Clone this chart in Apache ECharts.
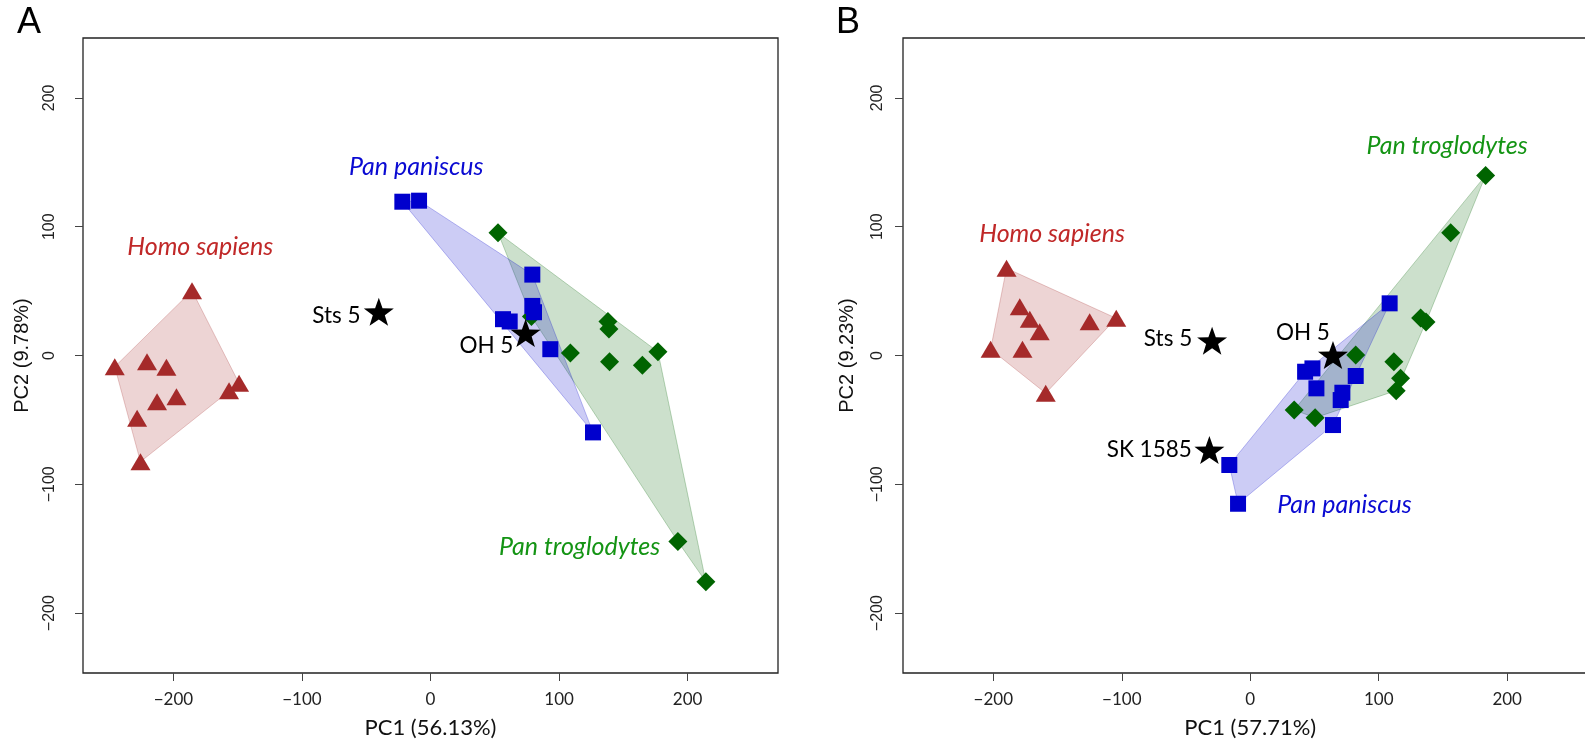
<!DOCTYPE html>
<html>
<head>
<meta charset="utf-8">
<title>PCA</title>
<style type="text/css">
body{margin:0;padding:0;overflow:hidden;background:#fff;}
#main{width:1600px;height:745px;}
</style>
<script src="https://cdn.jsdelivr.net/npm/echarts@6/dist/echarts.min.js"></script>
</head>
<body>
<div id="main"></div>
<script type="text/javascript">
// ---- panel A ----
var homoA = [[-185.5,50.3],[-245.6,-8.7],[-220.5,-4.8],[-205.4,-9.2],[-212.7,-35.9],[-197.6,-32],[-228.2,-48.8],[-148.9,-21.6],[-156.7,-27.3],[-225.6,-82.5]];
var paniscusA = [[-21.9,119.4],[-8.9,120.2],[79.2,62.8],[79.2,38.5],[80.5,33.6],[56.4,28.2],[61.6,26.4],[93.2,4.9],[126.4,-59.7]];
var troglodytesA = [[52.5,95.3],[78.5,30.2],[138,26.4],[138.8,20.5],[108.8,1.9],[139.3,-4.9],[164.8,-7.5],[176.9,2.9],[192.4,-144.4],[214.2,-175.7]];
var fossilsA = [[-40.2,33.9],[74,17.4]];
var fossilNamesA = ['Sts 5','OH 5'];
var fossilLabelsA = [[-73.2,30.7],[43.5,7.9]];
var speciesLabelsA = [[-179.1,84.2],[-11.1,146.3],[116,-148.7]];

// ---- panel B ----
var homoB = [[-189.7,67.7],[-179.4,37.9],[-171.6,28.1],[-163.9,18.5],[-125,26.2],[-104.3,28.9],[-202.1,4.8],[-177.3,4.8],[-159.2,-29.3]];
var paniscusB = [[108.5,40.5],[42.7,-12.6],[48.4,-10],[51.5,-25.5],[82.1,-15.9],[71.7,-28.9],[70.4,-34.6],[64.4,-54],[-16.3,-85],[-9.5,-115.1]];
var troglodytesB = [[183.2,139.8],[156,95.3],[132.6,29.1],[136.8,26],[82.1,0.4],[111.8,-4.8],[117,-17.7],[113.6,-27.3],[34.2,-42.3],[50.5,-48.3]];
var fossilsB = [[-29.7,11.5],[64.4,0.4],[-31.8,-73.4]];
var fossilNamesB = ['Sts 5','OH 5','SK 1585'];
var fossilLabelsB = [[-64,12.8],[41,17.6],[-78.6,-73.4]];
var speciesLabelsB = [[-154.2,94.7],[73.4,-116.1],[153.3,162.7]];

var speciesNames = ['Homo sapiens','Pan paniscus','Pan troglodytes'];
var tickValues = [-200,-100,0,100,200];
var xNames = ['PC1 (56.13%)','PC1 (57.71%)'];
var yNames = ['PC2 (9.78%)','PC2 (9.23%)'];

var markColor = ['#a52a2a','#0000cd','#006400'];
var hullFill = ['rgba(165,42,42,0.2)','rgba(0,0,205,0.2)','rgba(0,100,0,0.2)'];
var hullLine = ['rgba(165,42,42,0.25)','rgba(0,0,205,0.25)','rgba(0,100,0,0.25)'];
var textColor = ['#c02828','#0a0ad2','#149414'];

function hull(pts){
    var p = pts.slice().sort(function(a,b){return a[0]-b[0] || a[1]-b[1];});
    function cross(o,a,b){return (a[0]-o[0])*(b[1]-o[1])-(a[1]-o[1])*(b[0]-o[0]);}
    var lower=[],upper=[],i;
    for(i=0;i<p.length;i++){
        while(lower.length>=2 && cross(lower[lower.length-2],lower[lower.length-1],p[i])<=0) lower.pop();
        lower.push(p[i]);
    }
    for(i=p.length-1;i>=0;i--){
        while(upper.length>=2 && cross(upper[upper.length-2],upper[upper.length-1],p[i])<=0) upper.pop();
        upper.push(p[i]);
    }
    upper.pop(); lower.pop();
    return lower.concat(upper);
}

function starPath(){
    var s='path://';
    for(var i=0;i<10;i++){
        var r = i%2 ? 0.4 : 1;
        var a = -Math.PI/2 + i*Math.PI/5;
        s += (i ? 'L' : 'M') + (r*Math.cos(a)).toFixed(4) + ' ' + (r*Math.sin(a)).toFixed(4) + ' ';
    }
    return s+'Z';
}
var STAR = starPath();

function hullSeries(pts, k, gi){
    var h = hull(pts);
    return {
        type:'custom', xAxisIndex:gi, yAxisIndex:gi, silent:true, z:1,
        data:h,
        renderItem:function(params, api){
            if(params.dataIndex!==0) return;
            return {type:'polygon', shape:{points:h.map(function(p){return api.coord(p);})},
                style:{fill:hullFill[k], stroke:hullLine[k], lineWidth:1}};
        }
    };
}

function panelSeries(gi, homo, paniscus, trog, fossils, fNames, fLabels, sLabels){
    var s = [];
    s.push(hullSeries(trog,2,gi));
    s.push(hullSeries(paniscus,1,gi));
    s.push(hullSeries(homo,0,gi));
    s.push({type:'scatter', xAxisIndex:gi, yAxisIndex:gi, z:3, symbol:'diamond', symbolSize:[19,19],
        itemStyle:{color:markColor[2], opacity:1}, data:trog});
    s.push({type:'scatter', xAxisIndex:gi, yAxisIndex:gi, z:3, symbol:'rect', symbolSize:16,
        itemStyle:{color:markColor[1], opacity:1}, data:paniscus});
    s.push({type:'scatter', xAxisIndex:gi, yAxisIndex:gi, z:3, symbol:'triangle', symbolSize:[20,17],
        itemStyle:{color:markColor[0], opacity:1}, data:homo});
    s.push({type:'scatter', xAxisIndex:gi, yAxisIndex:gi, z:4, symbol:STAR, symbolSize:[30,28],
        itemStyle:{color:'#000', opacity:1}, data:fossils});
    s.push({type:'scatter', xAxisIndex:gi, yAxisIndex:gi, z:5, symbolSize:0, silent:true,
        itemStyle:{opacity:1},
        label:{show:true, position:'inside', formatter:'{b}', fontFamily:'Lato', fontSize:22.5, color:'#000', opacity:1},
        data:fLabels.map(function(p,i){return {name:fNames[i], value:p};})});
    s.push({type:'scatter', xAxisIndex:gi, yAxisIndex:gi, z:5, symbolSize:0, silent:true,
        itemStyle:{opacity:1},
        label:{show:true, position:'inside', formatter:'{b}', fontFamily:'Lato', fontStyle:'italic', fontSize:25, opacity:1},
        data:sLabels.map(function(p,i){return {name:speciesNames[i], value:p, label:{color:textColor[i]}};})});
    return s;
}

function xAxis(gi){
    return {
        gridIndex:gi, type:'value', min:-270.3, max:270.3,
        axisLine:{show:false, onZero:false}, splitLine:{show:false},
        axisTick:{show:true, length:8, customValues:tickValues, lineStyle:{color:'#444', width:1}},
        axisLabel:{customValues:tickValues, margin:18, fontFamily:'Lato', fontSize:17, color:'#222',
            formatter:function(v){return String(v).replace('-','\u2212');}},
        name:xNames[gi], nameLocation:'middle', nameGap:44, nameMoveOverlap:false,
        nameTextStyle:{fontFamily:'Lato', fontSize:22, color:'#111'}
    };
}
function yAxis(gi, margin, gap){
    return {
        gridIndex:gi, type:'value', min:-246.5, max:246.5,
        axisLine:{show:false, onZero:false}, splitLine:{show:false},
        axisTick:{show:true, length:8, customValues:tickValues, lineStyle:{color:'#444', width:1}},
        axisLabel:{customValues:tickValues, rotate:90, margin:margin, fontFamily:'Liberation Sans', fontSize:16, color:'#222',
            formatter:function(v){return String(v).replace('-','\u2212');}},
        name:yNames[gi], nameLocation:'middle', nameGap:gap, nameMoveOverlap:false,
        nameTextStyle:{fontFamily:'Liberation Sans', fontSize:20, color:'#111'}
    };
}

var chart = echarts.init(document.getElementById('main'));
chart.setOption({
    animation:false,
    backgroundColor:'#fff',
    grid:[
        {left:83, top:38, width:695, height:635, show:true, borderColor:'#222', borderWidth:1.3, backgroundColor:'transparent', outerBoundsMode:'none'},
        {left:903, top:38, width:694.5, height:635, show:true, borderColor:'#222', borderWidth:1.3, backgroundColor:'transparent', outerBoundsMode:'none'}
    ],
    xAxis:[xAxis(0), xAxis(1)],
    yAxis:[yAxis(0,25,51), yAxis(1,17,46)],
    graphic:[
        {type:'text', left:17, top:5, style:{text:'A', font:'36px "Liberation Sans"', fill:'#000'}},
        {type:'text', left:836, top:5, style:{text:'B', font:'36px "Liberation Sans"', fill:'#000'}}
    ],
    series:[].concat(
        panelSeries(0, homoA, paniscusA, troglodytesA, fossilsA, fossilNamesA, fossilLabelsA, speciesLabelsA),
        panelSeries(1, homoB, paniscusB, troglodytesB, fossilsB, fossilNamesB, fossilLabelsB, speciesLabelsB)
    )
});
</script>
</body>
</html>
